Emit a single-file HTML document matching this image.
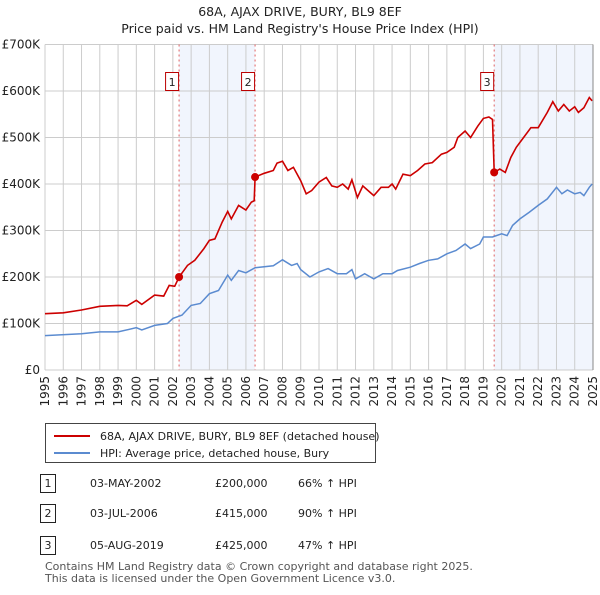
<!DOCTYPE html>
<html><head><meta charset="utf-8"><style>
body{margin:0;background:#fff;font-family:"Liberation Sans","DejaVu Sans",sans-serif;}
svg text{font-family:"DejaVu Sans","Liberation Sans",sans-serif;}
</style></head><body>
<svg id="c" width="600" height="590" xmlns="http://www.w3.org/2000/svg">
<text x="300" y="16" text-anchor="middle" font-size="12.5" fill="#222">68A, AJAX DRIVE, BURY, BL9 8EF</text>
<text x="300" y="33" text-anchor="middle" font-size="12.5" fill="#222">Price paid vs. HM Land Registry's House Price Index (HPI)</text>
<g id="plot"></g>
<g>
<rect x="45.5" y="423.5" width="330" height="39" fill="#fff" stroke="#444"/>
<line x1="54" y1="436" x2="90" y2="436" stroke="#cc0000" stroke-width="2"/>
<text x="100" y="440" font-size="11" fill="#222">68A, AJAX DRIVE, BURY, BL9 8EF (detached house)</text>
<line x1="54" y1="453" x2="90" y2="453" stroke="#5b8bd0" stroke-width="2"/>
<text x="100" y="457" font-size="11" fill="#222">HPI: Average price, detached house, Bury</text>
</g>
<g id="tbl" font-size="11" fill="#222"></g>
<text x="45" y="570" font-size="11" fill="#555">Contains HM Land Registry data © Crown copyright and database right 2025.</text>
<text x="45" y="582" font-size="11" fill="#555">This data is licensed under the Open Government Licence v3.0.</text>
</svg>
<script>
const hpiT=[1995,1997,1998,1999,2000,2000.3,2001,2001.7,2002,2002.5,2003,2003.5,2004,2004.5,2005,2005.2,2005.6,2006,2006.5,2007.5,2008,2008.5,2008.8,2009,2009.5,2010,2010.5,2011,2011.5,2011.8,2012,2012.5,2013,2013.5,2014,2014.3,2015,2015.5,2016,2016.5,2017,2017.5,2018,2018.3,2018.8,2019,2019.5,2020,2020.3,2020.6,2021,2021.5,2022,2022.5,2023,2023.3,2023.6,2024,2024.3,2024.5,2024.8,2024.95];
const hpiV=[74,78,82,82,91,86,96,100,111,118,139,143,164,171,204,193,214,209,220,224,237,225,229,216,200,211,218,207,207,216,196,207,196,207,207,214,221,229,236,239,250,257,271,261,271,286,286,293,289,311,325,339,354,368,393,379,387,379,382,375,393,400];
const redT=[1995,1996,1997,1998,1999,1999.5,2000,2000.3,2001,2001.5,2001.8,2002.1,2002.34,2002.8,2003.2,2003.7,2004,2004.3,2004.7,2005,2005.2,2005.6,2006,2006.3,2006.45,2006.5,2007,2007.5,2007.7,2008,2008.3,2008.6,2009,2009.3,2009.6,2010,2010.4,2010.7,2011,2011.3,2011.6,2011.8,2012.1,2012.4,2012.8,2013,2013.4,2013.8,2014,2014.2,2014.6,2015,2015.4,2015.8,2016.2,2016.7,2017,2017.4,2017.6,2018,2018.3,2018.7,2019,2019.3,2019.5,2019.59,2019.9,2020.2,2020.5,2020.8,2021.2,2021.6,2022,2022.5,2022.8,2023.1,2023.4,2023.7,2024,2024.2,2024.5,2024.8,2024.95];
const redV=[121,123,129,137,139,138,150,141,161,159,182,180,200,225,236,261,279,282,318,341,325,354,344,361,364,415,423,429,445,449,429,436,407,379,386,404,414,396,393,400,389,409,371,396,382,375,393,393,400,389,421,418,429,443,446,464,468,479,500,514,500,525,541,544,539,425,432,425,457,479,500,521,521,554,577,557,571,557,566,554,564,586,579];
const saleT=[2002.34,2006.5,2019.59];
const saleV=[200,415,425];
const saleDates=["03-MAY-2002","03-JUL-2006","05-AUG-2019"];
const salePrices=["£200,000","£415,000","£425,000"];
const saleHpi=["66% ↑ HPI","90% ↑ HPI","47% ↑ HPI"];
const yTicks=[0,100,200,300,400,500,600,700];
const yLabels=["£0","£100K","£200K","£300K","£400K","£500K","£600K","£700K"];
const xYears=[1995,1996,1997,1998,1999,2000,2001,2002,2003,2004,2005,2006,2007,2008,2009,2010,2011,2012,2013,2014,2015,2016,2017,2018,2019,2020,2021,2022,2023,2024,2025];

const X0=45,X1=593,Y0=370,Y1=44.5;
const sx=t=>X0+(t-1995)/30*(X1-X0);
const sy=v=>Y0-v/700*(Y0-Y1);
const NS="http://www.w3.org/2000/svg";
const g=document.getElementById('plot');
function mk(tag,at,par){const e=document.createElementNS(NS,tag);for(const k in at)e.setAttribute(k,at[k]);(par||g).appendChild(e);return e;}
// shading
let e=mk('rect',{x:sx(saleT[0]),y:Y1,width:sx(saleT[1])-sx(saleT[0]),height:Y0-Y1,fill:'#eef3fc',opacity:0.8});


e=mk('rect',{x:sx(saleT[2]),y:Y1,width:X1-sx(saleT[2]),height:Y0-Y1,fill:'#eef3fc',opacity:0.8});


yTicks.forEach((v,i)=>{
 let l=mk('line',{x1:X0,x2:X1,y1:sy(v),y2:sy(v),stroke:'#ccc'});
 
 
 let t=mk('text',{x:40,y:sy(v)+4,'text-anchor':'end','font-size':12,fill:'#222'});
 t.textContent=yLabels[i];
 
 
});
xYears.forEach(y=>{
 let l=mk('line',{x1:sx(y),x2:sx(y),y1:Y1,y2:Y0,stroke:'#ccc'});
 
 
 let t=mk('text',{x:0,y:0,'text-anchor':'end','font-size':12,fill:'#222',transform:`translate(${sx(y)+4},${Y0+6}) rotate(-90)`});
 t.textContent=y;
 
 
});
mk('line',{x1:X1,x2:X1,y1:Y1,y2:Y0,stroke:'#888'});
saleT.forEach((t,i)=>{
 let l=mk('line',{x1:sx(t),x2:sx(t),y1:Y1,y2:Y0,stroke:'#e06060','stroke-dasharray':'2,3'});
 
 
 let r=mk('rect',{x:sx(t)-13.5,y:72.5,width:13,height:18,fill:'#fff',stroke:'#b00'});
 
 
 let tx=mk('text',{x:sx(t)-7,y:86,'text-anchor':'middle','font-size':11,fill:'#222'});
 tx.textContent=i+1;
 
 
});
const pts=(T,V)=>T.map((t,i)=>sx(t).toFixed(1)+','+sy(V[i]).toFixed(1)).join(' ');
e=mk('polyline',{points:pts(hpiT,hpiV),fill:'none',stroke:'#5b8bd0','stroke-width':1.5});


e=mk('polyline',{points:pts(redT,redV),fill:'none',stroke:'#cc0000','stroke-width':1.6});


saleT.forEach((t,i)=>{
 let c=mk('circle',{cx:sx(t),cy:sy(saleV[i]),r:4,fill:'#cc0000'});
 
 
});
const tb=document.getElementById('tbl');
const rowY=[487,517,549];
saleDates.forEach((d,i)=>{
 let r=mk('rect',{x:40.5,y:rowY[i]-12.5,width:15,height:18,fill:'#fff',stroke:'#222'},tb);
 
 
 let t=mk('text',{x:48,y:rowY[i],'text-anchor':'middle'},tb);t.textContent=i+1;
 
 
 t=mk('text',{x:90,y:rowY[i]},tb);t.textContent=d;
 
 
 t=mk('text',{x:215,y:rowY[i]},tb);t.textContent=salePrices[i];
 
 
 t=mk('text',{x:298,y:rowY[i]},tb);t.textContent=saleHpi[i];
 
 
});
</script>
</body></html>
